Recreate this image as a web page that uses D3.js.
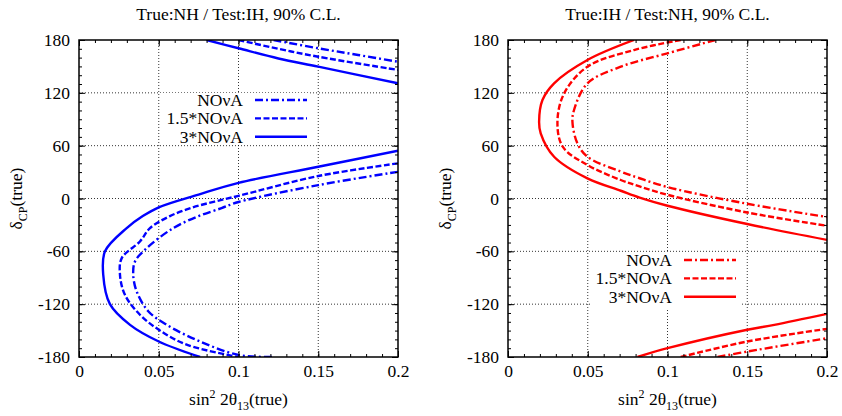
<!DOCTYPE html>
<html>
<head>
<meta charset="utf-8">
<script src="https://cdn.jsdelivr.net/npm/d3@7"></script>
<style>
  body { margin: 0; background: #fff; }
</style>
</head>
<body>
<div id="chart"></div>
<script>
// axis ticks
const xTicks = [0, 0.05, 0.1, 0.15, 0.2];
const xTickLabels = ["0", "0.05", "0.1", "0.15", "0.2"];
const yTicks = [-180, -120, -60, 0, 60, 120, 180];
const yTickLabels = ["-180", "-120", "-60", "0", "60", "120", "180"];

const titles = ["True:NH / Test:IH, 90% C.L.", "True:IH / Test:NH, 90% C.L."];
const seriesNames = ["NOνA", "1.5*NOνA", "3*NOνA"];

// contour branches: [sin^2 2theta13, deltaCP]
// True NH
const nh_nova = [
  [[0.122, 180], [0.15, 170.6], [0.175, 163], [0.2, 155.3]],
  [[0.2, 30.3], [0.15, 15.2], [0.1, -4], [0.0894, -10.9], [0.075, -20], [0.0591, -33.6], [0.0424, -56.4], [0.0351, -71.6],
   [0.034, -86.7], [0.0362, -105.7], [0.0434, -128], [0.055, -143.5], [0.0759, -162.4], [0.1, -177.6], [0.1218, -180]]
];
const nh_15 = [
  [[0.1, 180], [0.125, 170], [0.15, 161], [0.2, 146]],
  [[0.2, 39.9], [0.15, 25.5], [0.1, 3], [0.085, -3.5], [0.0707, -10.5], [0.057, -20], [0.0445, -33.6], [0.0382, -48.8], [0.0268, -67.7],
   [0.0257, -86.7], [0.0288, -109.4], [0.0382, -132], [0.05, -149], [0.0675, -166], [0.1, -180]]
];
const nh_3 = [
  [[0.08, 180], [0.1, 170.6], [0.125, 159], [0.15, 149.7], [0.2, 130.8]],
  [[0.2, 54.2], [0.15, 36], [0.1, 17.8], [0.075, 4.5], [0.05, -10], [0.04, -20], [0.0299, -33.6], [0.0163, -60], [0.0152, -86.7],
   [0.0194, -120], [0.032, -143.5], [0.05, -162.4], [0.0759, -180]]
];
// True IH
const ih_nova = [
  [[0.13, 180], [0.1, 164.9], [0.0707, 149.7], [0.0498, 130.8], [0.0414, 100.5], [0.0404, 87.2], [0.0435, 62.6],
   [0.0498, 47.4], [0.07, 31], [0.0825, 23], [0.1, 13], [0.15, -6], [0.2, -21]],
  [[0.1314, -180], [0.15, -173.8], [0.2, -158.7]]
];
const ih_15 = [
  [[0.1083, 180], [0.079, 168.6], [0.0498, 149.7], [0.0352, 119.4], [0.031, 87.2], [0.0343, 58.8], [0.0498, 38],
   [0.0707, 21], [0.0825, 13.7], [0.1, 4.2], [0.15, -15.9], [0.2, -31]],
  [[0.1083, -180], [0.15, -162.4], [0.2, -148]]
];
const ih_3 = [
  [[0.079, 180], [0.0498, 157.3], [0.0289, 130.8], [0.0216, 111.8], [0.0195, 87.2], [0.0205, 74], [0.0289, 47.4],
   [0.0498, 22.8], [0.0707, 8.8], [0.0825, 1], [0.1, -8.2], [0.15, -29], [0.2, -47]],
  [[0.0812, -180], [0.1, -170], [0.15, -149], [0.167, -143.5], [0.2, -131]]
];

const width = 842, height = 416;
const dashes = ["8,3,2,3", "6,2.5", null];
const FONT = "'Liberation Serif', 'DejaVu Serif', serif";
const FS = "17.5px";

const panels = [
  { left: 79, color: "#0000ff", curves: [nh_nova, nh_15, nh_3], legend: { x: 243, y: 100, box: [160, 93, 150, 52] } },
  { left: 508, color: "#ff0000", curves: [ih_nova, ih_15, ih_3], legend: { x: 672, y: 260, box: [590, 253, 150, 56] } }
];
const plotW = 319, plotTop = 40, plotBottom = 357;

const svg = d3.select("#chart").append("svg")
  .attr("width", width)
  .attr("height", height)
  .style("font-family", FONT);

panels.forEach((p, pi) => {
  const x = d3.scaleLinear().domain([0, 0.2]).range([p.left, p.left + plotW]);
  const y = d3.scaleLinear().domain([-180, 180]).range([plotBottom, plotTop]);
  const g = svg.append("g");

  // title
  g.append("text").attr("x", (x.range()[0] + x.range()[1]) / 2).attr("y", 20)
    .attr("text-anchor", "middle").style("font-family", FONT).style("font-size", FS).text(titles[pi]);

  // grid (dotted)
  const grid = g.append("g").attr("stroke", "#000").attr("stroke-width", 0.8).attr("stroke-dasharray", "1,2");
  grid.selectAll(".gx").data(xTicks.slice(1, -1)).enter().append("line")
    .attr("x1", d => x(d)).attr("x2", d => x(d)).attr("y1", plotTop).attr("y2", plotBottom);
  grid.selectAll(".gy").data(yTicks.slice(1, -1)).enter().append("line")
    .attr("y1", d => y(d)).attr("y2", d => y(d)).attr("x1", x.range()[0]).attr("x2", x.range()[1]);

  // key box hides the grid behind it
  const lg = p.legend;
  g.append("rect").attr("x", lg.box[0]).attr("y", lg.box[1]).attr("width", lg.box[2]).attr("height", lg.box[3])
    .attr("fill", "#fff");

  // curves
  const clipId = "clip" + pi;
  svg.append("clipPath").attr("id", clipId).append("rect")
    .attr("x", x.range()[0]).attr("y", plotTop).attr("width", plotW).attr("height", plotBottom - plotTop);
  const line = d3.line().x(d => x(d[0])).y(d => y(d[1])).curve(d3.curveCatmullRom.alpha(0.5));
  const cg = g.append("g").attr("clip-path", `url(#${clipId})`);
  p.curves.forEach((branches, ci) => {
    cg.selectAll(null).data(branches).enter().append("path")
      .attr("d", line)
      .attr("fill", "none")
      .attr("stroke", p.color)
      .attr("stroke-width", 2.4)
      .attr("stroke-dasharray", dashes[ci]);
  });

  // key
  seriesNames.forEach((name, i) => {
    const yy = lg.y + i * 18.4;
    g.append("text").attr("x", lg.x).attr("y", yy + 6).attr("text-anchor", "end")
      .style("font-family", FONT).style("font-size", FS).text(name);
    g.append("line").attr("x1", lg.x + 12).attr("x2", lg.x + 64).attr("y1", yy).attr("y2", yy)
      .attr("stroke", p.color).attr("stroke-width", 2.4).attr("stroke-dasharray", dashes[i]);
  });

  // axes: ticks pointing inward, mirrored on top and right
  const minorX = d3.range(0, 0.2001, 0.01);
  const minorY = d3.range(-180, 180.1, 10);
  const styleAxis = a => {
    a.attr("font-family", null).attr("font-size", null);
    a.select(".domain").remove();
    a.selectAll("line").attr("stroke-width", 1);
    a.selectAll("text").style("font-size", FS).style("font-family", FONT);
  };

  g.append("g").attr("transform", `translate(0,${plotBottom})`)
    .call(d3.axisBottom(x).tickValues(minorX).tickSizeInner(-3).tickSizeOuter(0).tickFormat("")).call(styleAxis);
  g.append("g").attr("transform", `translate(0,${plotTop})`)
    .call(d3.axisTop(x).tickValues(minorX).tickSizeInner(-3).tickSizeOuter(0).tickFormat("")).call(styleAxis);
  g.append("g").attr("transform", `translate(${x.range()[0]},0)`)
    .call(d3.axisLeft(y).tickValues(minorY).tickSizeInner(-3).tickSizeOuter(0).tickFormat("")).call(styleAxis);
  g.append("g").attr("transform", `translate(${x.range()[1]},0)`)
    .call(d3.axisRight(y).tickValues(minorY).tickSizeInner(-3).tickSizeOuter(0).tickFormat("")).call(styleAxis);

  g.append("g").attr("transform", `translate(0,${plotBottom})`)
    .call(d3.axisBottom(x).tickValues(xTicks).tickSizeInner(-6).tickSizeOuter(0).tickPadding(8)
      .tickFormat((d, i) => xTickLabels[i])).call(styleAxis);
  g.append("g").attr("transform", `translate(0,${plotTop})`)
    .call(d3.axisTop(x).tickValues(xTicks).tickSizeInner(-6).tickSizeOuter(0).tickFormat("")).call(styleAxis);
  g.append("g").attr("transform", `translate(${x.range()[0]},0)`)
    .call(d3.axisLeft(y).tickValues(yTicks).tickSizeInner(-6).tickSizeOuter(0).tickPadding(9)
      .tickFormat((d, i) => yTickLabels[i])).call(styleAxis);
  g.append("g").attr("transform", `translate(${x.range()[1]},0)`)
    .call(d3.axisRight(y).tickValues(yTicks).tickSizeInner(-6).tickSizeOuter(0).tickFormat("")).call(styleAxis);

  // frame
  g.append("rect").attr("x", x.range()[0]).attr("y", plotTop).attr("width", plotW).attr("height", plotBottom - plotTop)
    .attr("fill", "none").attr("stroke", "#000").attr("stroke-width", 1.5);

  // axis titles
  const xl = g.append("text").attr("x", (x.range()[0] + x.range()[1]) / 2).attr("y", 405)
    .attr("text-anchor", "middle").style("font-family", FONT).style("font-size", FS);
  xl.append("tspan").text("sin");
  xl.append("tspan").attr("dy", -7).style("font-size", "12px").text("2");
  xl.append("tspan").attr("dy", 7).text(" 2θ");
  xl.append("tspan").attr("dy", 5).style("font-size", "12px").text("13");
  xl.append("tspan").attr("dy", -5).text("(true)");

  const yl = g.append("text")
    .attr("transform", `translate(${x.range()[0] - 57},${(plotTop + plotBottom) / 2}) rotate(-90)`)
    .attr("text-anchor", "middle").style("font-family", FONT).style("font-size", FS);
  yl.append("tspan").text("δ");
  yl.append("tspan").attr("dy", 5).style("font-size", "12px").text("CP");
  yl.append("tspan").attr("dy", -5).text("(true)");
});
</script>
</body>
</html>
